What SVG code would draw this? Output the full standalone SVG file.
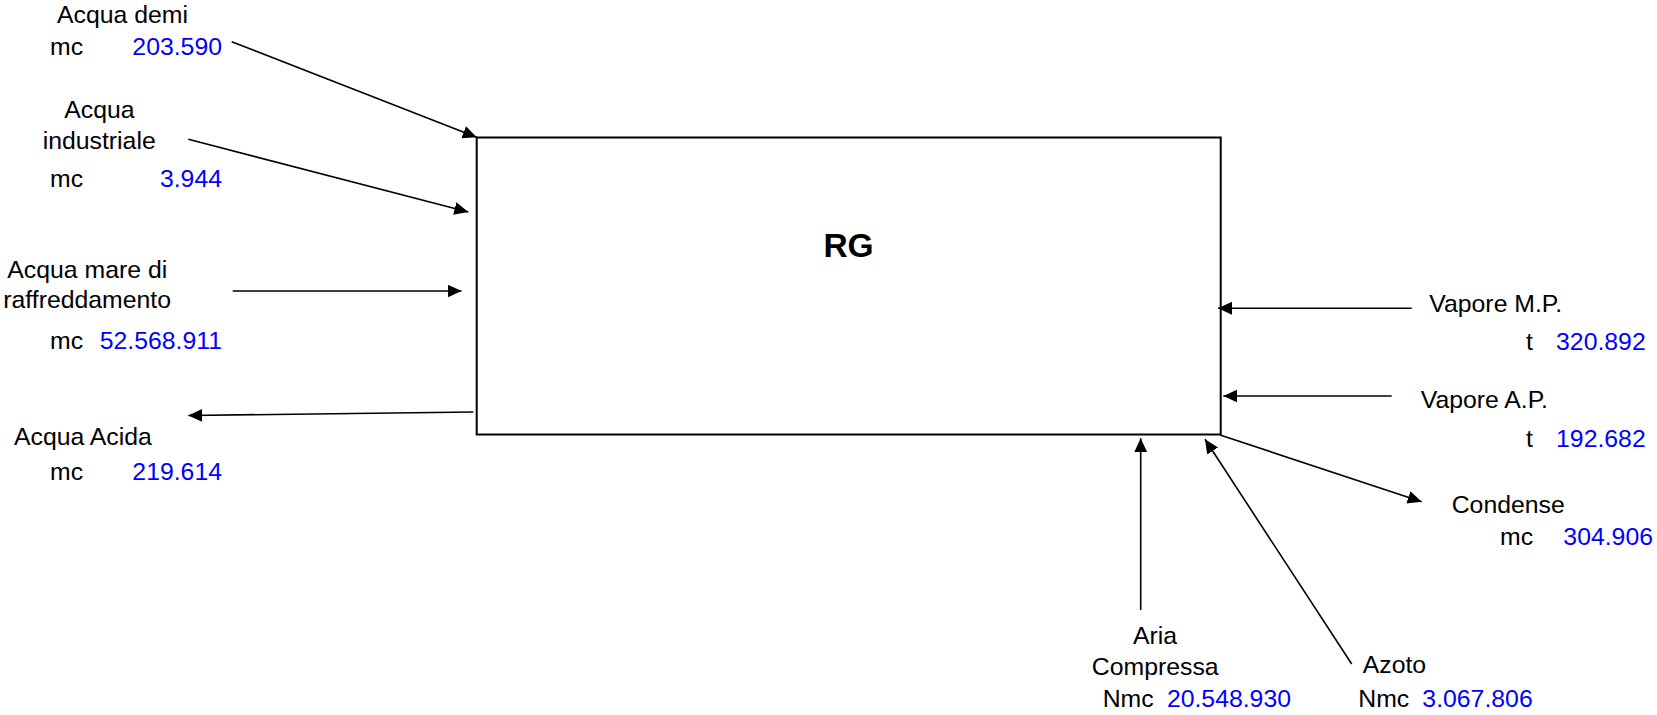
<svg xmlns="http://www.w3.org/2000/svg" width="1657" height="715" viewBox="0 0 1657 715">
<style>
text{font-family:"Liberation Sans",Arial,sans-serif;font-size:24.8px;fill:#000}
.v{fill:#0000ff}
.rg{font-size:33.5px;font-weight:bold}
.c{stroke:#000;stroke-width:1.6;fill:none;marker-end:url(#ah)}
</style>
<defs>
<marker id="ah" markerUnits="userSpaceOnUse" markerWidth="15" markerHeight="14" refX="14" refY="6.5" orient="auto">
<path d="M0,0 L14,6.5 L0,13 Z" fill="#000"/>
</marker>
</defs>
<rect width="1657" height="715" fill="#fff"/>
<g id="RG">
<rect x="476.7" y="137.5" width="744" height="297" fill="#fff" stroke="#000" stroke-width="2"/>
<text class="rg" x="848.5" y="256.5" text-anchor="middle">RG</text>
</g>
<g id="connectors">
<line class="c" x1="231.7" y1="41.7" x2="476.7" y2="137.3"/>
<line class="c" x1="188.3" y1="139.3" x2="468.3" y2="212"/>
<line class="c" x1="232.7" y1="291" x2="461.5" y2="291"/>
<line class="c" x1="473.3" y1="412" x2="188.3" y2="415.5"/>
<line class="c" x1="1411.7" y1="308.3" x2="1218" y2="308.3"/>
<line class="c" x1="1391.7" y1="396" x2="1223.3" y2="396"/>
<line class="c" x1="1220" y1="435" x2="1421.7" y2="501.7"/>
<line class="c" x1="1140.7" y1="610" x2="1140.7" y2="438.3"/>
<line class="c" x1="1351.7" y1="664" x2="1205" y2="439.3"/>
</g>
<g id="acqua-demi">
<text x="57" y="23">Acqua demi</text>
<text x="50" y="55">mc</text>
<text class="v" x="222" y="55" text-anchor="end">203.590</text>
</g>
<g id="acqua-industriale">
<text x="64.3" y="118">Acqua</text>
<text x="42.7" y="149.3">industriale</text>
<text x="50" y="186.7">mc</text>
<text class="v" x="222" y="186.7" text-anchor="end">3.944</text>
</g>
<g id="acqua-mare">
<text x="7.3" y="278.3">Acqua mare di</text>
<text x="3.3" y="308.3">raffreddamento</text>
<text x="50" y="349.3">mc</text>
<text class="v" x="222" y="349.3" text-anchor="end">52.568.911</text>
</g>
<g id="acqua-acida">
<text x="14" y="445">Acqua Acida</text>
<text x="50" y="480">mc</text>
<text class="v" x="222" y="480" text-anchor="end">219.614</text>
</g>
<g id="vapore-mp">
<text x="1429.3" y="311.7">Vapore M.P.</text>
<text x="1526" y="350">t</text>
<text class="v" x="1645.7" y="350" text-anchor="end">320.892</text>
</g>
<g id="vapore-ap">
<text x="1420.7" y="408.3">Vapore A.P.</text>
<text x="1526" y="447.3">t</text>
<text class="v" x="1645.7" y="447.3" text-anchor="end">192.682</text>
</g>
<g id="condense">
<text x="1451.7" y="513.3">Condense</text>
<text x="1500" y="545">mc</text>
<text class="v" x="1653" y="545" text-anchor="end">304.906</text>
</g>
<g id="aria-compressa">
<text x="1155" y="644" text-anchor="middle">Aria</text>
<text x="1155.2" y="675" text-anchor="middle">Compressa</text>
<text x="1102.7" y="706.7">Nmc</text>
<text class="v" x="1291" y="706.7" text-anchor="end">20.548.930</text>
</g>
<g id="azoto">
<text x="1362.7" y="673.3">Azoto</text>
<text x="1358.3" y="706.7">Nmc</text>
<text class="v" x="1532.7" y="706.7" text-anchor="end">3.067.806</text>
</g>
</svg>
